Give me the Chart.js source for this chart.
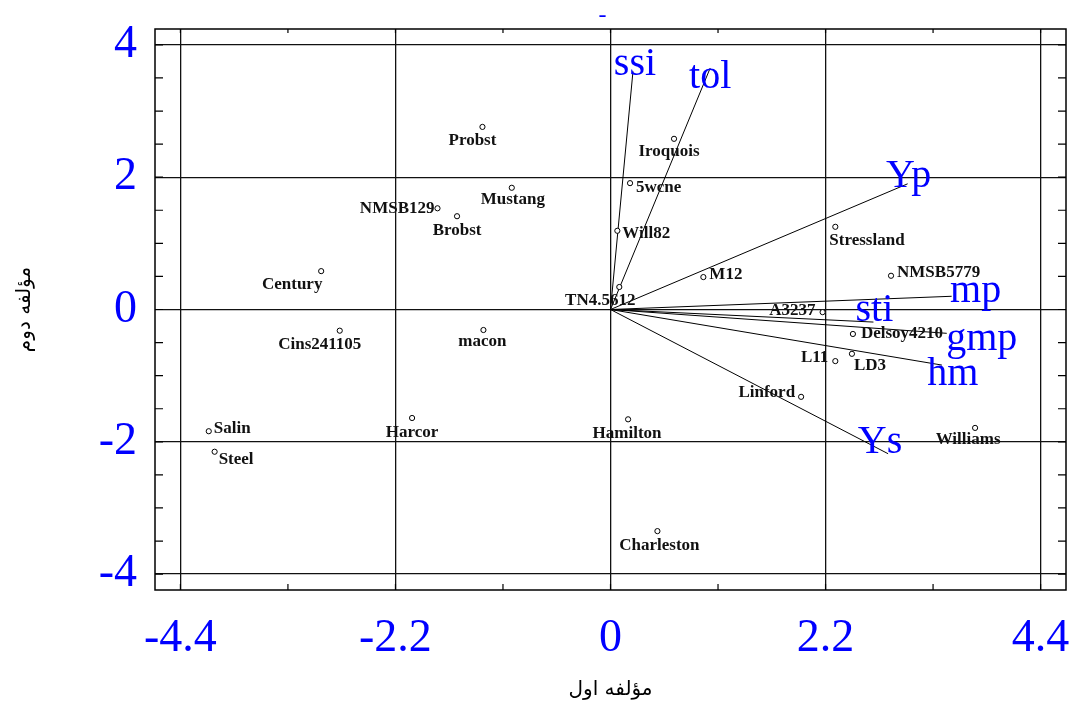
<!DOCTYPE html>
<html>
<head>
<meta charset="utf-8">
<script src="https://cdn.jsdelivr.net/npm/chart.js@4.4.1/dist/chart.umd.min.js"></script>
<style>
html,body{margin:0;padding:0;background:#fff;}
#wrap{width:1071px;height:703px;position:relative;}
</style>
</head>
<body>
<div id="wrap"><canvas id="c" width="1071" height="703"></canvas></div>
<script>
// ---- data ----
const genotypes = ['Probst','Mustang','NMSB129','Brobst','Century','Cins241105','macon','Salin','Steel','Harcor',
  'Hamilton','Charleston','Linford','L11','LD3','Delsoy4210','A3237','Williams','NMSB5779','Stressland',
  'M12','Iroquois','5wcne','Will82','TN4.5612'];
const genoX = [-1.31,-1.01,-1.77,-1.57,-2.96,-2.77,-1.30,-4.11,-4.05,-2.03,
  0.18,0.48,1.95,2.30,2.47,2.48,2.17,3.73,2.87,2.30,
  0.95,0.65,0.20,0.07,0.09];
const genoY = [2.76,1.84,1.53,1.41,0.58,-0.32,-0.31,-1.84,-2.15,-1.64,
  -1.66,-3.35,-1.32,-0.78,-0.67,-0.37,-0.04,-1.79,0.51,1.25,
  0.49,2.58,1.91,1.19,0.34];

const traitNames = ['ssi','tol','Yp','mp','sti','gmp','hm','Ys'];
const traitX = [0.23,1.02,3.04,3.49,2.69,3.44,3.39,2.84];
const traitY = [3.60,3.65,1.90,0.20,-0.19,-0.36,-0.84,-2.18];

const xTickValues = [-4.4,-3.3,-2.2,-1.1,0,1.1,2.2,3.3,4.4];
const xTickLabels = ['-4.4','-2.2','0','2.2','4.4'];
const yTickValues = [-4,-3.5,-3,-2.5,-2,-1.5,-1,-0.5,0,0.5,1,1.5,2,2.5,3,3.5,4];
const yTickLabels = ['-4','-2','0','2','4'];

const xTitle = 'مؤلفه اول';
const yTitle = 'مؤلفه دوم';

// ---- label placement (layout only) ----
const genoLabelPlace = [
  [-10,14,'center'],[1,12,'center'],[-3,0,'right'],[0,14,'center'],[-29,13,'center'],
  [-20,14,'center'],[-1,12,'center'],[5,-3,'left'],[4,8,'left'],[0,15,'center'],
  [-1,14,'center'],[2,14,'center'],[-6,-4,'right'],[-7,-3,'right'],[2,12,'left'],
  [8,0,'left'],[-7,-2,'right'],[-7,12,'center'],[6,-3,'left'],[-6,14,'left'],
  [6,-2,'left'],[-5,13,'center'],[6,4,'left'],[5,3,'left'],[-19,14,'center']
];
const traitLabelPlace = [[2,4],[0,20],[1,3],[24,6],[1,-1],[35,17],[11,20],[-8,-1]];

const BLUE = '#0000ff';
const SERIF = "'Liberation Serif','Times New Roman',serif";

const datasets = [{
  label: 'genotypes',
  data: genoX.map((x, i) => ({x: x, y: genoY[i]})),
  showLine: false,
  pointStyle: 'circle',
  pointRadius: 2.6,
  pointBorderWidth: 1,
  pointBorderColor: '#000',
  pointBackgroundColor: '#fff'
}];
traitNames.forEach((n, i) => {
  datasets.push({
    label: n,
    data: [{x: 0, y: 0}, {x: traitX[i], y: traitY[i]}],
    showLine: true,
    borderColor: '#000',
    borderWidth: 1,
    pointRadius: 0
  });
});

const labelsPlugin = {
  id: 'biplotLabels',
  afterDatasetsDraw(chart) {
    const ctx = chart.ctx;
    const xs = chart.scales.x, ys = chart.scales.y;
    const ca = chart.chartArea;
    ctx.save();
    // frame
    ctx.strokeStyle = '#000';
    ctx.lineWidth = 1.5;
    ctx.strokeRect(ca.left, ca.top, ca.right - ca.left, ca.bottom - ca.top);
    // inward tick marks
    ctx.lineWidth = 1.2;
    ctx.beginPath();
    xs.ticks.forEach(t => {
      const px = xs.getPixelForValue(t.value);
      ctx.moveTo(px, ca.top); ctx.lineTo(px, ca.top + 4);
      ctx.moveTo(px, ca.bottom); ctx.lineTo(px, ca.bottom - 6);
    });
    ys.ticks.forEach(t => {
      const py = ys.getPixelForValue(t.value);
      ctx.moveTo(ca.left, py); ctx.lineTo(ca.left + 8, py);
      ctx.moveTo(ca.right, py); ctx.lineTo(ca.right - 8, py);
    });
    ctx.stroke();
    // genotype labels
    ctx.fillStyle = '#111';
    ctx.font = 'bold 17px ' + SERIF;
    ctx.textBaseline = 'middle';
    genotypes.forEach((g, i) => {
      const px = xs.getPixelForValue(genoX[i]);
      const py = ys.getPixelForValue(genoY[i]);
      const p = genoLabelPlace[i];
      ctx.textAlign = p[2];
      ctx.fillText(g, px + p[0], py + p[1]);
    });
    // trait labels
    ctx.fillStyle = BLUE;
    ctx.font = '40px ' + SERIF;
    ctx.textAlign = 'center';
    ctx.textBaseline = 'alphabetic';
    traitNames.forEach((n, i) => {
      const px = xs.getPixelForValue(traitX[i]);
      const py = ys.getPixelForValue(traitY[i]);
      const p = traitLabelPlace[i];
      ctx.fillText(n, px + p[0], py + p[1]);
    });
    // stray dash above the plot
    ctx.font = '24px ' + SERIF;
    ctx.textBaseline = 'middle';
    ctx.fillText('-', xs.getPixelForValue(0) - 8, ca.top - 13);
    ctx.restore();
  }
};

function noPad(s) { s.paddingLeft = 0; s.paddingRight = 0; s.paddingTop = 0; s.paddingBottom = 0; }

new Chart(document.getElementById('c'), {
  type: 'scatter',
  data: {datasets: datasets},
  options: {
    responsive: false,
    animation: false,
    events: [],
    layout: {autoPadding: false, padding: {top: 29, right: 5, left: 0, bottom: 0}},
    plugins: {legend: {display: false}, tooltip: {enabled: false}, title: {display: false}},
    scales: {
      x: {
        type: 'linear', min: -4.66, max: 4.66,
        afterBuildTicks: s => { s.ticks = xTickValues.map(v => ({value: v})); },
        afterFit: s => { s.height = 113; noPad(s); },
        border: {display: false},
        grid: {
          drawTicks: false,
          lineWidth: 1.3,
          color: c => (c.index % 2 === 0 ? '#111' : 'rgba(0,0,0,0)')
        },
        ticks: {
          autoSkip: false, maxRotation: 0, minRotation: 0, padding: 21,
          color: BLUE,
          font: {family: SERIF, size: 46},
          callback: (v, i) => (i % 2 === 0 ? xTickLabels[i / 2] : '')
        },
        title: {
          display: true, text: xTitle, color: '#000',
          font: {family: "'DejaVu Sans', sans-serif", size: 20},
          padding: {top: 0, bottom: 1}
        }
      },
      y: {
        type: 'linear', min: -4.24, max: 4.24,
        afterBuildTicks: s => { s.ticks = yTickValues.map(v => ({value: v})); },
        afterFit: s => { s.width = 155; noPad(s); },
        border: {display: false},
        grid: {
          drawTicks: false,
          lineWidth: 1.3,
          color: c => (c.index % 4 === 0 ? '#111' : 'rgba(0,0,0,0)')
        },
        ticks: {
          autoSkip: false, padding: 18,
          color: BLUE,
          font: {family: SERIF, size: 46},
          callback: (v, i) => (i % 4 === 0 ? yTickLabels[i / 4] : '')
        },
        title: {
          display: true, text: yTitle, color: '#000',
          font: {family: "'DejaVu Sans', sans-serif", size: 20},
          padding: {top: 13, bottom: 0}
        }
      }
    }
  },
  plugins: [labelsPlugin]
});
</script>
</body>
</html>
